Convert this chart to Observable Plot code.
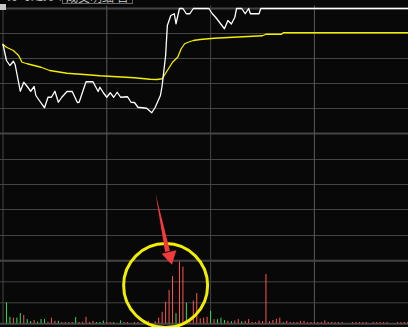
<!DOCTYPE html>
<html><head><meta charset="utf-8">
<script src="https://cdn.jsdelivr.net/npm/d3@7"></script>
<script src="https://cdn.jsdelivr.net/npm/@observablehq/plot@0.6"></script>
<style>
html,body{margin:0;padding:0;background:#080808;overflow:hidden}
#wrap{position:relative;width:408px;height:327px;background:#080808;overflow:hidden}
#wrap svg{position:absolute;left:0;top:0;background:transparent}
.hdr{position:absolute;top:-11px;font:12px "Noto Sans CJK SC",sans-serif;color:#b8b8b8;white-space:nowrap;line-height:12px}
.box{border:1px solid #666;padding:0 3px;top:-10px}
.mark{position:absolute;left:0;top:4px;width:6px;height:6px;background:#c8c8c8}
</style></head><body><div id="wrap"><div class="hdr" style="left:7px">分时走势 日</div><div class="hdr box" style="left:62px">成交明细 日</div></div>
<script>
// ---- price line (minute, % change) ----
const priceT = [0,2,4,6,7,10,12,14,16,18,19,21,24,26,28,30,32,34,37,40,43,44,48,52,55,56,58,60,62,64,66,68,72,74,76,78,83,86,88,91,92,94,95,97,99,100,102,104,106,108,110,119,121,123,128,130,132,134,135,138,140,142,143,148,149,240];
const priceP = [7.12,5.84,5.44,5.78,5.52,3.38,4.10,3.76,3.38,3.76,3.04,2.64,2.06,2.90,2.90,3.38,2.50,2.90,3.36,3.36,2.48,2.50,4.14,4.14,3.36,3.70,3.26,2.90,3.26,2.90,3.30,2.90,2.94,2.50,2.48,2.10,2.02,1.66,2.10,3.04,3.84,6.24,8.64,9.44,9.58,8.78,10,10,9.58,9.58,10,10,9.58,9.28,8.38,9.04,8.76,9.30,10,10,9.58,10,9.58,9.58,10,10];
// ---- average price line ----
const avgT = [0,2,6,9,11,14,22,27,37,47,56,66,76,85,89,92,95,98,101,103,105,107,110,114,122,133,150,152,161,162,240];
const avgP = [7.12,6.90,6.64,6.24,5.70,5.58,5.30,5.04,4.82,4.72,4.62,4.54,4.46,4.34,4.32,4.38,5.04,5.70,6.10,6.78,7.18,7.30,7.44,7.52,7.62,7.70,7.82,7.94,7.94,8.06,8.06];
// ---- volume bars (one bar every 2 minutes, bar 1 .. 117) ----
const volume = [1.0,0.31,0.27,0.27,0.49,0.40,0.20,0.11,0.16,0.08,
 0.20,0.20,0.06,0.27,0.12,0.12,0.06,0.06,0.06,0.06,
 0.30,0.06,0.06,0.31,0.06,0.12,0.06,0.06,0.13,0.06,
 0.06,0.06,0,0.14,0.06,0.06,0,0.06,0.06,0,
 0.08,0.12,0,0.10,0.27,0.55,1.03,1.59,2.25,0.48,
 2.93,2.70,0.98,0.20,1.08,1.44,0.24,0.27,0.31,0.59,
 0.20,0.20,0.27,0.16,0.12,0.10,0.13,0.20,0.10,0.12,
 0.20,0.06,0.06,0.13,0.10,2.35,0.10,0.16,0.22,0.27,
 0.06,0.12,0.06,0.06,0.06,0.12,0.12,0.06,0.06,0.06,
 0.06,0.06,0.14,0.06,0.06,0.06,0.06,0.06,0,0,
 0.06,0.06,0.06,0.06,0.06,0,0.06,0.06,0.06,0.06,
 0.06,0,0,0.06,0.06,0.06,0.06];
const volDir = ("GGRGGRGGRG" + "GGRRRGRRRR" + "GRRRRRGGGR" + "RGRGRRRRRR" + "RRRRRRRRRG" +
  "RRGRRRRRRG" + "RGGGRGRRGR" + "RRRRRRRRRR" + "RRRRRRRRRR" + "RRRRRRRRRR" + "RRRRRRRRRR" + "RRRRRRR").split("");
// ---- grid ----
const priceGrid = [8, 6, 4, 2, -2.08, -4.08, -6.08, -8.16];
const priceSep = [10, 0];
const volGrid = [1, 2];
const volSep = [0, 3];
const timeLines = [0, 60, 120, 180];
// ---- annotation ----
const ring = [{t: 94, v: 1.82}];
const arrowShaft = [{t: 95.1, v: 3.44}];
const arrowHead = [{t: 96.5, v: 3.22}];

const RED = "#ff5454", GREEN = "#36dc58", YEL = "#f2ee00", ARROW = "#f23a3a", GRID = "#444";
const X = {domain: [0, 240], range: [2.5, 417.7], axis: null};

const priceRows = priceT.map((t, i) => ({t, p: priceP[i]}));
const avgRows = avgT.map((t, i) => ({t, p: avgP[i]}));
const volRows = volume.map((v, i) => ({t: (i + 1) * 2, v, up: volDir[i] === "R"})).filter(d => d.v > 0);

const pricePlot = Plot.plot({
  width: 408, height: 327, marginTop: 8, marginBottom: 194, marginLeft: 0, marginRight: 0,
  x: X, y: {domain: [0, 10], axis: null},
  style: {background: "transparent"},
  marks: [
    Plot.ruleY(priceGrid, {stroke: GRID, strokeWidth: 1}),
    Plot.ruleY(priceSep, {stroke: GRID, strokeWidth: 2}),
    Plot.ruleX(timeLines, {x: d => d, y1: 10.2, y2: -15.2, stroke: d => d % 120 === 0 ? "#444" : "#5a5a5a",
      strokeDasharray: d => d % 120 === 0 ? null : "1,2"}),
    Plot.line(avgRows, {x: "t", y: "p", stroke: YEL, strokeWidth: 1.3}),
    Plot.line(priceRows, {x: "t", y: "p", stroke: "#ffffff", strokeWidth: 1.3})
  ]
});

const volPlot = Plot.plot({
  width: 408, height: 327, marginTop: 260.3, marginBottom: 3.7, marginLeft: 0, marginRight: 0,
  x: X, y: {domain: [0, 3], axis: null},
  style: {background: "transparent"},
  marks: [
    Plot.ruleY(volGrid, {stroke: GRID, strokeWidth: 1}),
    Plot.ruleY(volSep, {stroke: GRID, strokeWidth: 2}),
    Plot.ruleX(volRows, {x: "t", y1: 0, y2: "v", stroke: d => d.up ? RED : GREEN, strokeWidth: 1}),
    Plot.dot(ring, {x: "t", y: "v", r: 42, stroke: YEL, strokeWidth: 3, fill: "none"}),
    Plot.vector(arrowShaft, {x: "t", y: "v", length: 59, rotate: -11.7, shape: "spike", r: 2.5, anchor: "start", fill: ARROW, stroke: "none"}),
    Plot.dot(arrowHead, {x: "t", y: "v", symbol: "triangle", r: 5.6, rotate: 167, fill: ARROW, stroke: "none"})
  ]
});

const wrap = document.getElementById("wrap");
wrap.appendChild(pricePlot);
wrap.appendChild(volPlot);
const sq = document.createElement("div"); sq.className = "mark"; wrap.appendChild(sq);
</script></body></html>
